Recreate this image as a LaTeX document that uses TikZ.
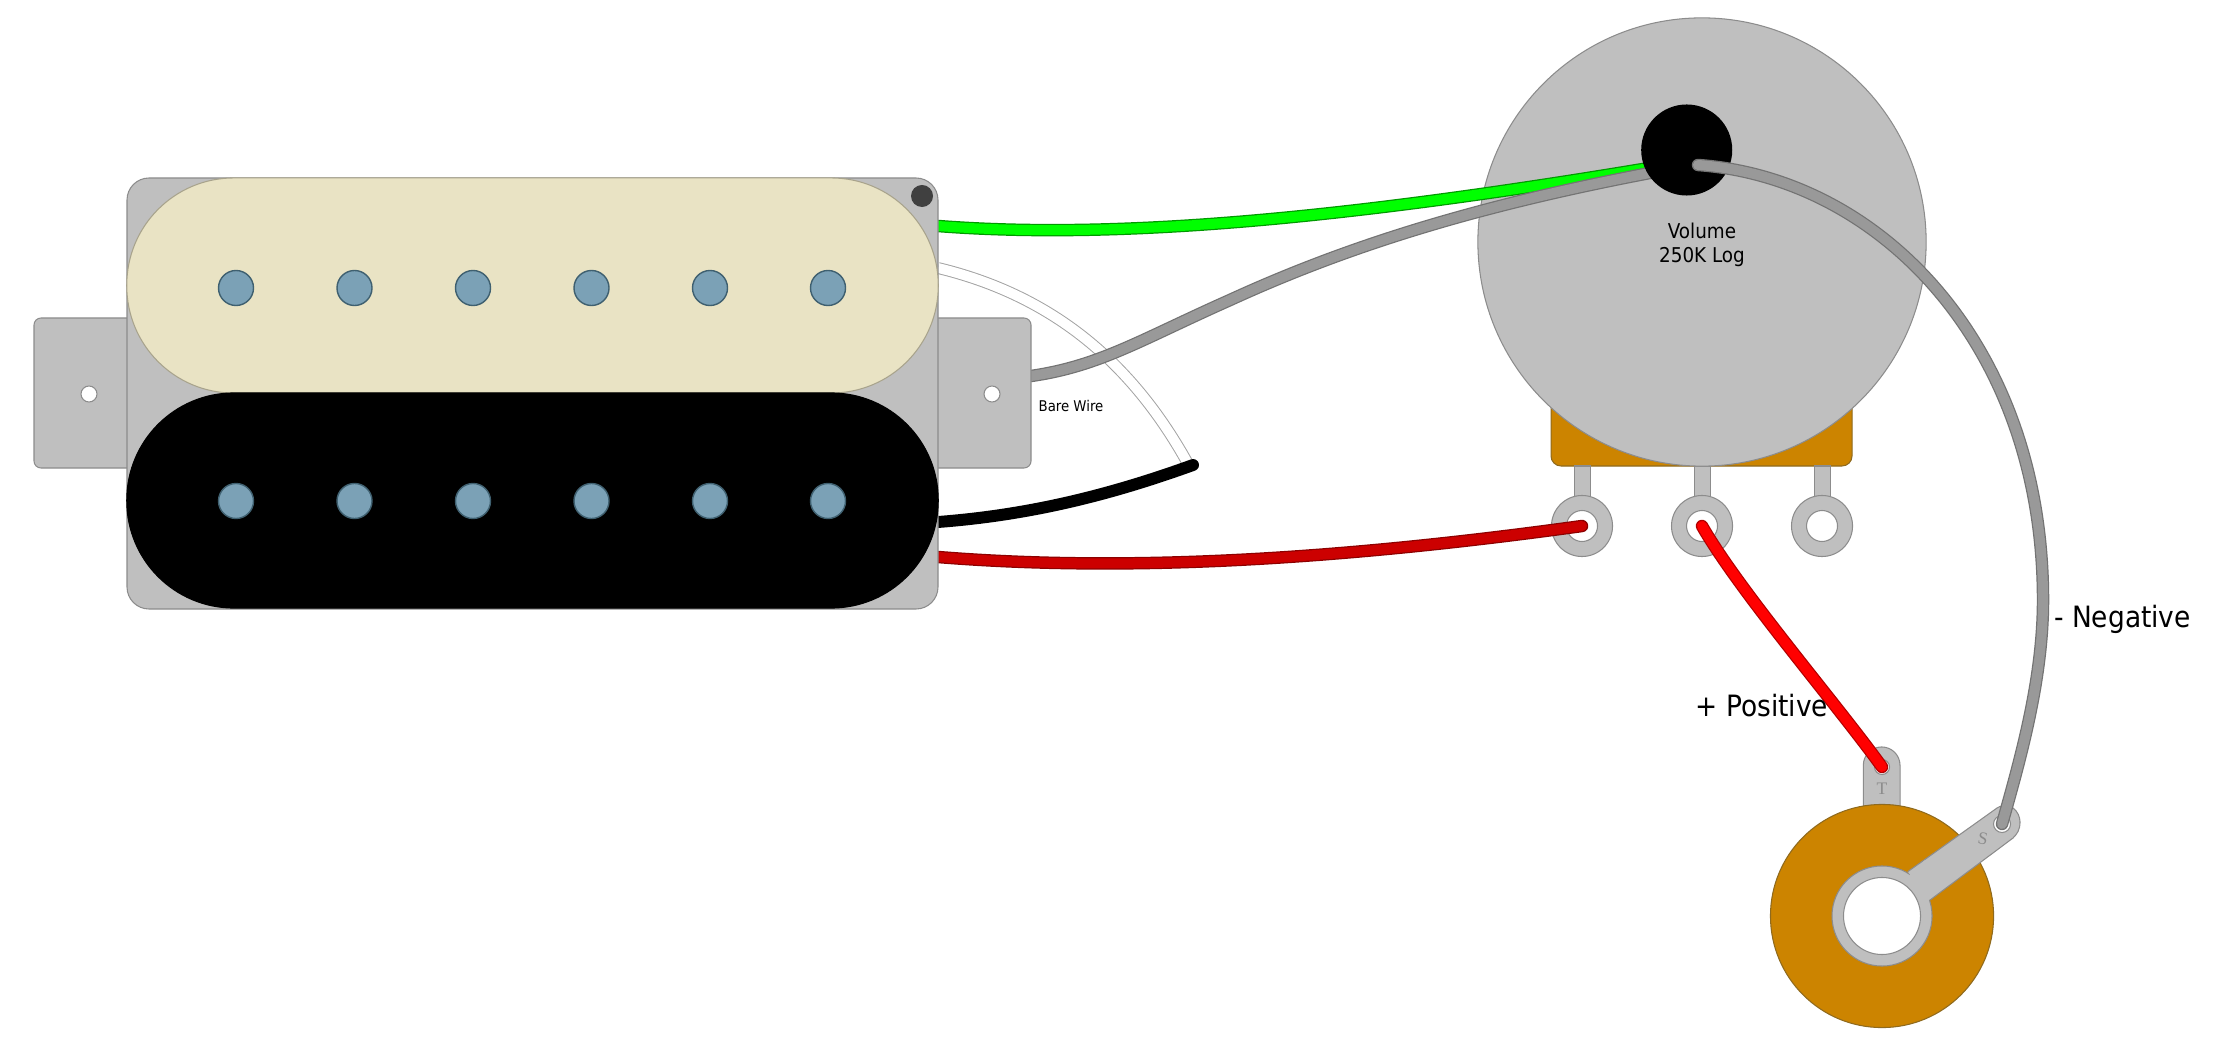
\documentclass[tikz,border=0pt]{standalone}
\usepackage{fontspec}
\setmainfont{DejaVu Sans Condensed}
\newfontfamily\lugfont{Liberation Serif}
\definecolor{metal}{HTML}{BFBFBF}
\definecolor{metalline}{HTML}{8C8C8C}
\definecolor{cream}{HTML}{E9E3C4}
\definecolor{creamline}{HTML}{A8A38C}
\definecolor{polefill}{HTML}{7BA1B6}
\definecolor{poleline}{HTML}{3F6070}
\definecolor{brass}{HTML}{CC8400}
\definecolor{brassline}{HTML}{8F6A1E}
\definecolor{wiregrey}{HTML}{999999}
\tikzset{
  metalpart/.style={draw=metalline,fill=metal,line width=0.3pt},
  mounthole/.style={circle,draw=metalline,fill=white,line width=0.3pt,minimum size=0.16cm,inner sep=0pt},
  polepiece/.style={circle,draw=poleline,fill=polefill,line width=0.4pt,minimum size=0.35cm,inner sep=0pt},
  bobbin/.style={minimum width=8.11cm,minimum height=2.15cm,rounded corners=1.07cm,line width=0.3pt,inner sep=0pt},
  lugring/.style={circle,metalpart,minimum size=0.61cm,inner sep=0pt},
  lughole/.style={circle,draw=metalline,fill=white,line width=0.3pt,minimum size=0.31cm,inner sep=0pt},
  wire/.style={line width=0.35pt,double distance=2.85pt,line cap=round},
  lugletter/.style={text=metalline,font=\lugfont\fontsize{5}{5}\selectfont,inner sep=0pt}
}
\begin{document}
\begin{tikzpicture}[x=0.01cm,y=-0.01cm]
  \useasboundingbox (0,0) rectangle (2231,1049);

  \draw[fill=brass,draw=brassline,line width=0.3pt,rounded corners=0.1cm] (1551,380) rectangle (1852,466);
  \foreach \x/\n in {1582/A,1702/B,1822/C} {
    \draw[metalpart] (\x-8,466) rectangle (\x+8,500);
    \node[lugring] at (\x,526) (lug\n) {};
    \node[lughole] at (\x,526) (hole\n) {};
  }
  \node[circle,metalpart,minimum size=4.48cm,inner sep=0pt] at (1702,242) (potcase) {};

  \draw[metalpart] (1863.3,812) -- (1863.3,765.3) arc[start angle=180,end angle=360,radius=18.35] -- (1900,812);
  \node[lugletter] at (1882,789) (letterT) {T};
  \node[circle,draw=brassline,fill=brass,line width=0.3pt,minimum size=2.23cm,inner sep=0pt] at (1882,916) (jackbody) {};
  \node[circle,metalpart,minimum size=1cm,inner sep=0pt] at (1882,916) (jackring) {};
  \draw[metalpart] (1907.7,871.7) -- (1997,808) .. controls (2010,800) and (2020,812) .. (2020,822) .. controls (2020,830) and (2017,834) .. (2013,838) -- (1930,900);
  \fill[metal] (1900,885) -- (1925,905) -- (1945,880) -- (1925,860) -- cycle;
  \node[circle,draw=metalline,fill=white,line width=0.3pt,minimum size=0.77cm,inner sep=0pt] at (1882,916) (jackhole) {};
  \node[lugletter,rotate=-10] at (1983,839) (letterS) {S};
  \node[circle,draw=metalline,fill=white,line width=0.3pt,minimum size=0.15cm,inner sep=0pt] at (1882,767) (tipT) {};
  \node[circle,draw=metalline,fill=white,line width=0.3pt,minimum size=0.17cm,inner sep=0pt] at (2002,824) (tipS) {};

  \coordinate (greenout) at (938,226);
  \coordinate (greenin) at (1655,167);
  \coordinate (greyout) at (1031,376);
  \coordinate (greyin) at (1655,172);
  \coordinate (blackout) at (938,522);
  \coordinate (blackend) at (1193,465);
  \coordinate (bareout) at (938,268);
  \coordinate (bareend) at (1187,462);
  \coordinate (redout) at (938,557);

  \draw[line width=0.28pt,draw=metalline!80,double=white,double distance=2.8pt] (bareout) .. controls (1050,295) and (1130,360) .. (bareend);
  \draw[wire,draw=green!60!black,double=green] (greenout) .. controls (1120,240) and (1350,218) .. (greenin);
  \draw[wire,draw=black!55,double=wiregrey] (greyout) .. controls (1100,366) and (1140,340) .. (1230,300) .. controls (1350,245) and (1480,205) .. (greyin);
  \draw[line width=3.4pt,line cap=round] (blackout) .. controls (1030,515) and (1110,495) .. (blackend);
  \draw[wire,draw=red!55!black,double=red!80!black] (redout) .. controls (1100,570) and (1300,565) .. (lugA.center);
  \draw[wire,draw=red!70!black,double=red] (lugB.center) .. controls (1740,592) and (1835,702) .. (tipT.center);

  \draw[metalpart,rounded corners=0.07cm] (34,318) rectangle (140,468);
  \draw[metalpart,rounded corners=0.07cm] (925,318) rectangle (1031,468);
  \node[mounthole] at (89,394) (earholeL) {};
  \node[mounthole] at (992,394) (earholeR) {};
  \draw[metalpart,rounded corners=0.22cm] (127,178) rectangle (938,609) node[midway] (cover) {};
  \node[bobbin,draw=creamline,fill=cream] at (532.5,285.5) (bobbintop) {};
  \node[bobbin,draw=black,fill=black] at (532.5,500.5) (bobbinbottom) {};
  \foreach \x/\n in {236/1,354.5/2,473/3,591.5/4,710/5,828/6} {
    \node[polepiece] at (\x,288) (poletop\n) {};
    \node[polepiece] at (\x,501) (polebottom\n) {};
  }
  \node[circle,fill=black!75,minimum size=0.22cm,inner sep=0pt] at (922,196) (screw) {};

  \node[circle,fill=black,minimum size=0.91cm,inner sep=0pt] at (1686.7,150) (potshaft) {};
  \coordinate (shaftwire) at (1698,165);
  \draw[wire,draw=black!55,double=wiregrey] (shaftwire) .. controls (1880,178) and (2043,345) .. (2043,600) .. controls (2043,680) and (2020,760) .. (tipS.center);

  \node[align=center,font=\fontsize{5.8}{6.8}\selectfont,inner sep=0pt] at (1702,245) (potlabel) {Volume\\250K Log};
  \node[font=\fontsize{4.2}{5}\selectfont,inner sep=0pt] at (1071,406) (barelabel) {Bare Wire};
  \node[font=\fontsize{8.35}{10}\selectfont,inner sep=0pt] at (1762,706) (poslabel) {+ Positive};
  \node[font=\fontsize{8.35}{10}\selectfont,inner sep=0pt] at (2122.5,619) (neglabel) {- Negative};
\end{tikzpicture}
\end{document}
